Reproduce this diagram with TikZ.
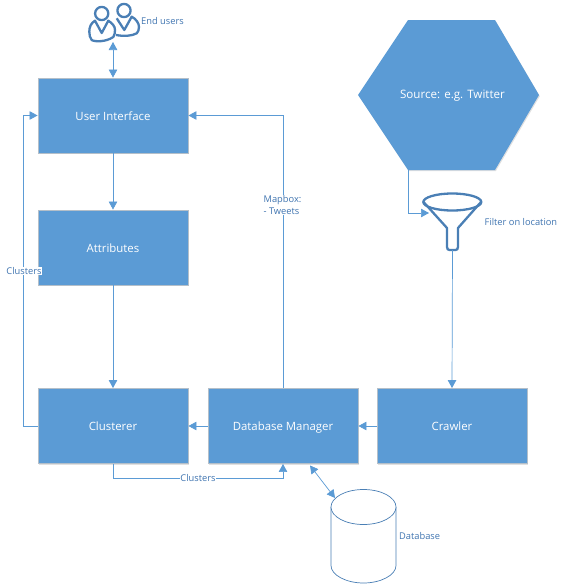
\documentclass[tikz,border=0pt]{standalone}
\usepackage{fontspec}
\setmainfont{Open Sans}
\usetikzlibrary{arrows.meta,shadows,calc}
\definecolor{fillb}{HTML}{5B9BD5}
\definecolor{edgeb}{HTML}{B4BFC9}
\definecolor{lineb}{HTML}{5B9BD5}
\definecolor{iconb}{HTML}{4A7FB5}
\definecolor{txtb}{HTML}{3F74B0}
\tikzset{
  x=1pt,y=-1pt,
  procbox/.style={draw=edgeb,line width=0.9pt,fill=fillb,minimum width=150pt,minimum height=75pt,inner sep=0pt,text=white,font=\fontsize{11.4}{13}\selectfont,text height=11.5pt,text depth=2.5pt,
    drop shadow={shadow xshift=0.8pt,shadow yshift=-1.2pt,fill=black,opacity=0.12}},
  conn/.style={draw=lineb,line width=0.7pt,-{Triangle[length=8pt,width=8.5pt]}},
  conn2/.style={draw=lineb,line width=0.7pt,{Triangle[length=8pt,width=8.5pt]}-{Triangle[length=8pt,width=8.5pt]}},
  lab/.style={text=txtb,font=\fontsize{9.3}{11.5}\selectfont,inner sep=0.5pt},
  icon/.style={draw=iconb,line width=2.3pt,line join=round},
  cyl/.style={draw=iconb,line width=0.7pt,fill=white}
}
\begin{document}
\begin{tikzpicture}
\useasboundingbox (0,0) rectangle (564,584);
% boxes
\node[procbox] (ui) at (113,115.5) {User Interface};
\node[procbox] (attr) at (113,247.5) {Attributes};
\node[procbox] (clu) at (113,426) {Clusterer};
\node[procbox] (dbm) at (283,426) {Database Manager};
\node[procbox] (cra) at (452,426) {Crawler};
% hexagon
\coordinate (hexbl) at (408,170);
\path[fill=black,opacity=0.12] (359,96.2)--(408.8,21.2)--(495.8,21.2)--(539.8,96.2)--(495.8,171.2)--(408.8,171.2)--cycle;
\path[fill=fillb] (358,95)--(408,20)--(495,20)--(539,95)--(495,170)--(408,170)--cycle;
\node[text=white,font=\fontsize{11.6}{13}\selectfont,inner sep=0pt] (src) at (452.5,96) {Source: e.g. Twitter};
% funnel
\coordinate (funl) at (429,213);
\coordinate (funb) at (452.5,250);
\draw[icon,fill=white] (423.5,202) -- (447,228) -- (447,247) .. controls (447,249) and (448,250) .. (449.5,250) -- (455.5,250) .. controls (457,250) and (458,249) .. (458,247) -- (458,228) -- (481,202);
\draw[icon] (452.3,202) ellipse[x radius=29,y radius=8.5];
\node[lab,anchor=west] (fl) at (484,222) {Filter on location};
% users
\coordinate (usr) at (113,42);
\begin{scope}[icon]
\draw (124,10.5) circle[radius=6.6];
\draw (116.7,18.3) -- (124.3,30) -- (131.7,16.7) .. controls (136,19) and (139,23) .. (139,27) .. controls (139,30) and (138,32) .. (136.7,33.3) .. controls (132,36) and (124,36.5) .. (116,35);
\draw (101.7,13.5) circle[radius=6.6];
\draw (95,20.7) .. controls (91,23) and (89.3,27) .. (89.3,31.7) .. controls (89.3,35) and (90,38) .. (91.7,40) .. controls (95,42) and (106,42) .. (113.3,37) .. controls (114.5,35) and (115,33) .. (115,30) .. controls (115,26) and (112,23) .. (108.3,20.7) -- (101.7,33) -- cycle;
\end{scope}
\node[lab,anchor=west] (eu) at (140.5,21.5) {End users};
% cylinder
\coordinate (cyltop) at (335,498);
\draw[cyl] (331,507) -- (331,565.5) .. controls (331,575) and (346,583) .. (363.5,583) .. controls (381,583) and (396,575) .. (396,565.5) -- (396,507);
\draw[cyl] (363.5,507) ellipse[x radius=32.5,y radius=17.5];
\node[lab,anchor=west] (dbl) at (398.5,536.5) {Database};
% connectors
\draw[conn2] (usr) -- (ui.north);
\draw[conn] (ui.south) -- (attr.north);
\draw[conn] (attr.south) -- (clu.north);
\draw[conn] (cra.west) -- (dbm.east);
\draw[conn] (dbm.west) -- (clu.east);
\draw[conn] (clu.west) -- (23,426) -- (23,115.5) -- (ui.west);
\draw[conn] (dbm.north) -- (283,115.5) -- (ui.east);
\draw[conn] (clu.south) -- (113,478) -- (283,478) -- (dbm.south);
\draw[conn] (hexbl) -- (408,213) -- (funl);
\draw[conn] (funb) -- (cra.north);
\draw[conn2] ($(dbm.south)+(27,1.5)$) -- (cyltop);
% edge labels
\node[lab,fill=white] (l1) at (24,271) {Clusters};
\node[lab,fill=white] (l2) at (198,478) {Clusters};
\node[lab,fill=white,align=left] (l3) at (282.5,205) {Mapbox:\\- Tweets};
\end{tikzpicture}
\end{document}
